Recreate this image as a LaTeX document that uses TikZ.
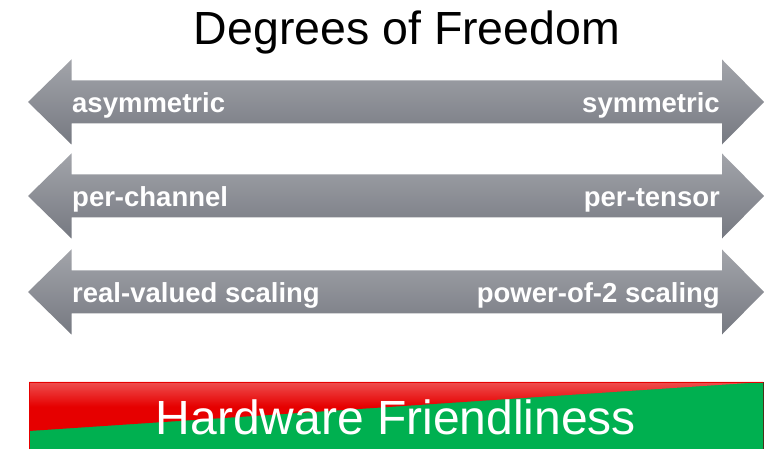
\documentclass[tikz,border=0pt]{standalone}
\usepackage{fontspec}
\setmainfont{Liberation Sans}
\usepackage{xcolor}
\usepackage{tikz}
\usetikzlibrary{calc}

\definecolor{arrowtop}{RGB}{162,164,170}
\definecolor{arrowbot}{RGB}{118,121,129}
\definecolor{hwred}{RGB}{230,0,0}
\definecolor{hwredlight}{RGB}{238,78,78}
\definecolor{hwgreen}{RGB}{0,176,80}

\tikzset{
  dblarrow/.style={top color=arrowtop,bottom color=arrowbot,draw=none},
  leftlbl/.style={anchor=base west,inner sep=0pt,text=white,font=\fontsize{27.5}{30}\selectfont\bfseries},
  rightlbl/.style={anchor=base east,inner sep=0pt,text=white,font=\fontsize{27.5}{30}\selectfont\bfseries}
}

\begin{document}
\begin{tikzpicture}[x=1pt,y=1pt]
\useasboundingbox (0,0) rectangle (775,449);
\node[anchor=base,inner sep=0pt,font=\fontsize{46.5}{50}\selectfont] (title) at (407,404) {Degrees of Freedom};

% three double-headed arrows
\shade[dblarrow,yshift=347] (28,0)--(71.5,42.5)--(71.5,21.5)--(722,21.5)--(722,42.5)--(764,0)--(722,-42.5)--(722,-21.5)--(71.5,-21.5)--(71.5,-42.5)--cycle;
\shade[dblarrow,yshift=253] (28,0)--(71.5,42.5)--(71.5,21.5)--(722,21.5)--(722,42.5)--(764,0)--(722,-42.5)--(722,-21.5)--(71.5,-21.5)--(71.5,-42.5)--cycle;
\shade[dblarrow,yshift=157] (28,0)--(71.5,42.5)--(71.5,21.5)--(722,21.5)--(722,42.5)--(764,0)--(722,-42.5)--(722,-21.5)--(71.5,-21.5)--(71.5,-42.5)--cycle;

\node[leftlbl] (asym) at (72,336) {asymmetric};
\node[rightlbl] (sym) at (720,336) {symmetric};
\node[leftlbl] (perch) at (72,242) {per-channel};
\node[rightlbl] (perten) at (720,242) {per-tensor};
\node[leftlbl] (realsc) at (72,146) {real-valued scaling};
\node[rightlbl] (powsc) at (720,146) {power-of-2 scaling};

% hardware bar
\fill[hwgreen] (29,0) rectangle (763,67);
\shade[top color=hwredlight,bottom color=hwred,middle color=hwred] (29,67)--(763,67)--(29,18)--cycle;
\draw[hwred,line width=0.8pt] (29,0)--(29,67)--(763,67);
\draw[hwred!50!hwgreen!60!black,line width=0.6pt] (763,67)--(763,0);
\node[anchor=base,inner sep=0pt,text=white,font=\fontsize{48}{52}\selectfont] (hw) at (396,15) {Hardware Friendliness};
\end{tikzpicture}
\end{document}
